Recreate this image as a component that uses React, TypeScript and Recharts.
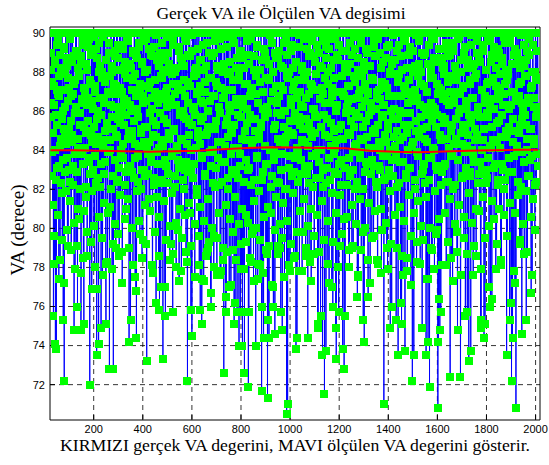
import React from "react";
import {
  ComposedChart,
  Line,
  XAxis,
  YAxis,
  CartesianGrid,
} from "recharts";

// Measured VA (degrees) on even samples 24, 26, 28, ... in blocks of 200 samples.
const vaEven0 = [
  90, 86.4, 88.1, 82.7, 90, 84.9, 75.5, 87.3, 78.2, 88.6,
  74.1, 85.8, 73.8, 89.4, 83.1, 86.9, 90, 77.4, 87.8, 84.2,
  88.9, 82.3, 90, 85.6, 79.4, 87.1, 75.3, 89.2, 72.2, 84.7,
  86.2, 90, 81.9, 88.3, 83.6, 87.7, 79.1, 90, 85.1, 82.4,
  89.7, 86.8, 78.9, 84.4, 88.5, 90, 83.2, 87.4, 74.8, 85.9,
  77.9, 89.1, 86.1, 90, 82.9, 76.0, 88.2, 84.6, 87.9, 80.5,
  90, 85.3, 74.8, 88.8, 83.8, 86.6, 89.6, 78.5, 75.1, 87.2,
  84.1, 90, 82.1, 88.4, 86.3, 79.8, 89.3, 85.5, 83.4, 90,
  72.0, 87.6, 84.8, 88.9, 76.9, 86.5, 90, 83.0, 89.8, 85.2,
  78.0, 87.0, 90, 84.3, 73.5, 88.7, 82.6, 86.0, 74.1, 89.5,
];
const vaEven1 = [
  86.7, 90, 83.3, 74.9, 88.0, 84.5, 77.6, 89.9, 86.4, 90,
  82.8, 87.5, 85.0, 75.1, 88.6, 90, 78.3, 86.9, 83.9, 89.0,
  72.8, 84.0, 87.8, 90, 82.0, 88.3, 85.7, 79.2, 72.8, 86.2,
  90, 83.5, 88.8, 79.0, 87.3, 84.7, 90, 89.4, 82.5, 86.0,
  78.6, 88.1, 85.4, 90, 83.7, 87.0, 77.2, 89.2, 84.3, 86.6,
  90, 82.2, 88.5, 85.8, 81.0, 87.7, 90, 83.1, 89.6, 84.9,
  74.2, 86.3, 90, 75.3, 88.2, 82.9, 87.1, 84.6, 78.1, 89.1,
  85.5, 90, 83.6, 87.9, 76.8, 74.4, 88.7, 86.1, 90, 82.4,
  84.2, 89.5, 79.7, 87.4, 85.1, 90, 83.0, 88.4, 79.4, 86.8,
  90, 84.4, 88.0, 82.7, 86.5, 89.7, 73.2, 85.2, 90, 83.8,
];
const vaEven2 = [
  87.2, 81.5, 90, 85.9, 88.9, 83.4, 86.7, 90, 77.7, 84.8,
  89.3, 82.6, 87.6, 90, 85.3, 76.2, 88.6, 83.9, 86.4, 90,
  78.6, 84.1, 75.8, 89.0, 86.9, 82.3, 90, 87.7, 84.5, 73.3,
  88.1, 85.6, 90, 77.0, 75.5, 87.0, 83.2, 89.8, 86.2, 90,
  82.8, 88.4, 84.9, 78.4, 90, 86.6, 79.2, 87.9, 83.7, 75.7,
  89.4, 85.0, 90, 82.1, 88.0, 86.3, 78.0, 84.2, 90, 87.4,
  83.5, 89.1, 77.3, 86.0, 90, 88.7, 84.6, 79.5, 87.1, 82.5,
  90, 85.7, 88.3, 83.0, 86.8, 90, 78.8, 89.6, 84.3, 72.2,
  87.5, 82.9, 90, 85.4, 88.8, 80.8, 75.8, 84.0, 74.5, 89.9,
  86.1, 90, 83.3, 87.8, 77.5, 85.8, 90, 88.2, 82.0, 86.9,
];
const vaEven3 = [
  89.2, 84.7, 90, 78.1, 87.3, 75.8, 85.5, 88.6, 75.1, 83.6,
  90, 86.4, 77.3, 88.1, 82.7, 87.0, 90, 84.8, 78.8, 89.5,
  85.2, 79.0, 87.7, 90, 83.9, 86.5, 76.7, 76.0, 88.9, 84.0,
  90, 82.3, 86.8, 79.6, 89.0, 85.1, 90, 83.1, 87.5, 77.6,
  88.3, 84.4, 90, 86.2, 82.2, 89.7, 85.9, 77.8, 87.2, 90,
  83.4, 88.0, 78.4, 72.6, 86.7, 90, 84.2, 75.7, 76.5, 89.3,
  85.6, 82.6, 87.9, 90, 77.0, 86.0, 88.5, 83.8, 90, 84.9,
  87.1, 78.9, 89.8, 85.3, 75.1, 90, 76.2, 82.8, 88.2, 86.3,
  75.7, 84.1, 90, 87.6, 74.0, 83.2, 89.1, 75.7, 85.7, 77.9,
  90, 74.0, 86.6, 88.7, 82.4, 72.6, 87.4, 90, 84.5, 79.3,
];
const vaEven4 = [
  86.1, 89.6, 83.0, 71.9, 75.7, 88.4, 85.8, 90, 78.3, 87.2,
  84.3, 90, 79.9, 86.9, 88.8, 82.5, 90, 85.0, 74.0, 87.8,
  83.7, 89.4, 77.4, 86.4, 90, 84.6, 88.1, 78.1, 85.4, 90,
  71.7, 76.0, 87.0, 82.9, 74.4, 89.2, 85.7, 90, 83.3, 88.6,
  78.7, 86.2, 71.3, 75.3, 90, 74.4, 87.6, 84.0, 89.9, 82.1,
  86.5, 90, 77.1, 88.0, 76.0, 85.1, 83.5, 74.6, 89.0, 87.3,
  90, 82.4, 85.9, 88.7, 79.1, 86.8, 90, 84.4, 79.0, 75.7,
  88.3, 83.8, 74.8, 87.1, 90, 85.2, 89.5, 82.0, 86.0, 90,
  84.7, 70.5, 88.9, 71.0, 87.7, 83.1, 90, 85.5, 77.8, 89.1,
  86.3, 82.7, 90, 88.2, 84.8, 78.5, 87.5, 90, 83.6, 85.9,
];
const vaEven5 = [
  73.8, 88.5, 74.4, 86.7, 90, 83.9, 89.3, 77.8, 87.0, 85.3,
  90, 82.8, 88.1, 84.5, 79.8, 86.2, 90, 89.7, 83.2, 87.6,
  78.6, 85.6, 90, 88.0, 74.4, 84.2, 86.9, 82.3, 90, 89.0,
  85.0, 77.3, 87.3, 83.7, 90, 86.1, 88.8, 78.7, 84.9, 90,
  82.6, 87.9, 85.7, 89.4, 75.1, 74.9, 90, 83.4, 86.6, 88.3,
  75.5, 84.0, 90, 87.2, 73.5, 82.1, 89.6, 85.8, 71.5, 90,
  86.4, 73.7, 88.7, 83.1, 90, 78.2, 87.4, 84.7, 89.2, 82.5,
  90, 85.4, 88.2, 77.0, 86.8, 76.0, 90, 83.8, 87.7, 84.1,
  89.8, 74.9, 73.3, 86.3, 90, 82.8, 88.6, 75.7, 85.1, 79.1,
  90, 87.0, 83.5, 89.1, 84.6, 73.8, 86.9, 90, 72.8, 88.4,
];
const vaEven6 = [
  75.5, 85.9, 90, 82.2, 88.0, 86.5, 90, 83.6, 87.3, 78.0,
  89.5, 84.8, 90, 86.0, 79.0, 88.9, 83.0, 90, 85.2, 87.8,
  82.0, 89.2, 84.3, 90, 86.7, 76.5, 88.1, 77.5, 85.7, 90,
  83.9, 87.1, 89.8, 78.9, 86.2, 90, 84.5, 75.3, 88.5, 74.2,
  87.4, 82.9, 90, 85.5, 89.0, 83.3, 86.9, 76.5, 90, 84.1,
  88.3, 77.2, 86.4, 90, 83.5, 87.7, 85.0, 90, 79.6, 89.3,
  84.9, 88.8, 82.4, 86.1, 90, 87.0, 78.4, 85.3, 89.7, 83.2,
  90, 86.6, 84.0, 88.2, 77.7, 87.5, 90, 85.8, 83.7, 71.0,
  86.3, 90, 82.6, 88.7, 84.4, 79.0, 87.2, 90, 85.1, 89.4,
  83.0, 87.9, 74.9, 90, 86.0, 76.0, 88.4, 82.7, 90, 84.7,
];
const vaEven7 = [
  88.6, 84.2, 90, 86.8, 75.3, 82.1, 89.1, 85.6, 73.5, 87.9,
  90, 83.4, 86.0, 76.2, 88.8, 75.1, 90, 84.7, 77.6, 87.3,
  89.6, 85.3, 73.7, 90, 82.8, 86.9, 88.2, 78.5, 84.0, 90,
  87.6, 83.1, 89.3, 85.9, 77.1, 90, 86.5, 72.2, 88.0, 84.4,
  73.5, 90, 87.1, 82.5, 89.9, 85.0, 79.3, 86.7, 90, 83.7,
  88.4, 84.8, 90, 78.2, 87.4, 85.7, 89.0, 74.9, 83.0, 90,
  86.2, 88.9, 82.3, 84.6, 90, 73.5, 87.0, 85.2, 77.4, 74.2,
  89.4, 83.6, 71.9, 90, 86.4, 88.1, 79.0, 85.5, 90, 87.7,
  84.1, 89.7, 77.9, 86.1, 90, 83.2, 88.5, 85.8, 79.9, 70.8,
  74.2, 76.4, 87.2, 74.8, 90, 75.7, 84.5, 88.7, 82.9, 86.6,
];
const vaEven8 = [
  90, 85.4, 88.3, 83.3, 86.9, 90, 78.1, 89.2, 84.6, 87.5,
  82.4, 90, 86.3, 88.9, 72.4, 85.0, 90, 83.8, 87.8, 77.3,
  89.5, 84.3, 86.8, 90, 82.2, 88.0, 85.6, 90, 78.8, 74.8,
  87.0, 83.5, 89.8, 90, 86.1, 72.4, 84.9, 88.6, 82.6, 90,
  85.3, 87.3, 79.5, 89.0, 83.9, 75.5, 90, 86.5, 84.2, 75.7,
  88.2, 90, 73.2, 85.8, 87.6, 82.7, 73.7, 89.4, 84.0, 90,
  86.7, 77.6, 88.4, 83.4, 90, 85.1, 87.9, 78.6, 89.6, 84.8,
  90, 86.0, 82.8, 88.8, 85.7, 90, 74.9, 75.3, 87.1, 83.0,
  89.1, 84.5, 90, 74.4, 86.4, 75.1, 88.1, 82.3, 90, 85.9,
  87.4, 83.6, 89.7, 77.0, 90, 86.2, 76.0, 84.1, 88.5, 76.4,
];
const vaEven9 = [
  85.2, 90, 87.7, 83.1, 89.3, 86.6, 90, 77.9, 88.2, 84.4,
  90, 86.9, 82.5, 89.0, 85.5, 90, 87.2, 78.4, 84.7, 88.7,
  83.3, 90, 86.3, 89.8, 82.0, 87.4, 90, 85.0, 88.0, 73.5,
  84.9, 90, 87.9, 82.9, 86.1, 75.3, 89.5, 90, 76.2, 72.2,
  88.4, 74.4, 85.6, 90, 83.7, 87.0, 77.2, 89.2, 70.8, 86.5,
  90, 84.2, 88.6, 82.4, 86.8, 90, 85.3, 79.2, 89.9, 87.5,
  74.6, 83.9, 90, 86.0, 88.3, 78.7, 85.8, 90, 87.8, 75.3,
  84.6, 89.1, 90, 82.7, 86.4, 88.9, 83.5, 90, 85.1, 76.7,
  87.3, 77.6, 89.4, 90, 84.3, 86.7, 88.0, 82.2, 90, 85.7,
  87.6, 83.8, 90, 86.2,
];

// Measured VA (degrees) on odd samples 25, 27, 29, ... in blocks of 200 samples.
const vaOdd0 = [
  85.7, 89.0, 83.9, 87.5, 81.2, 90, 86.3, 79.6, 88.4, 84.0,
  90, 82.5, 87.1, 85.3, 89.6, 80.7, 86.8, 83.2, 90, 78.4,
  84.6, 88.2, 81.8, 90, 86.0, 83.5, 89.3, 77.2, 85.1, 87.9,
  82.9, 90, 84.3, 88.7, 79.9, 86.5, 90, 83.0, 87.2, 81.4,
  89.9, 85.5, 78.9, 90, 84.8, 86.9, 82.2, 88.8, 80.3, 87.6,
  83.8, 90, 86.2, 79.1, 89.1, 84.1, 81.0, 87.8, 90, 85.9,
  82.0, 88.5, 77.7, 86.4, 90, 83.3, 89.4, 80.9, 85.2, 87.0,
  90, 81.6, 84.9, 88.1, 78.6, 86.7, 90, 83.6, 89.7, 82.8,
  85.0, 79.3, 87.4, 90, 84.4, 81.9, 88.9, 86.1, 80.1, 90,
  83.7, 87.3, 82.3, 89.2, 76.9, 85.6, 90, 84.7, 88.0, 80.6,
];
const vaOdd1 = [
  88.3, 82.1, 90, 85.8, 79.5, 87.7, 84.2, 89.8, 81.3, 86.6,
  90, 83.4, 78.2, 88.6, 85.4, 90, 80.8, 87.0, 83.9, 89.5,
  84.5, 81.1, 86.3, 90, 88.0, 77.9, 85.1, 82.7, 90, 87.4,
  80.2, 89.1, 84.8, 86.9, 90, 82.4, 88.7, 79.7, 85.6, 83.1,
  90, 87.2, 81.7, 89.4, 84.0, 86.2, 78.8, 90, 83.6, 88.2,
  85.3, 80.5, 87.9, 90, 82.9, 86.5, 89.7, 81.5, 84.6, 90,
  79.0, 88.4, 83.2, 86.0, 90, 85.0, 80.0, 87.6, 89.0, 82.6,
  90, 84.3, 77.5, 88.9, 86.8, 81.9, 90, 83.7, 85.7, 89.3,
  80.4, 87.1, 90, 84.9, 82.0, 88.5, 78.5, 86.4, 90, 83.0,
  89.6, 85.2, 81.2, 90, 87.3, 79.2, 84.1, 88.1, 82.8, 90,
];
const vaOdd2 = [
  84.4, 89.2, 80.9, 87.5, 90, 83.8, 86.1, 78.1, 88.8, 85.5,
  90, 82.2, 87.0, 79.8, 89.9, 84.7, 81.6, 90, 86.7, 83.3,
  88.3, 80.6, 90, 85.9, 77.0, 87.8, 82.5, 89.5, 84.2, 90,
  81.4, 86.6, 88.6, 83.5, 90, 79.4, 85.4, 87.2, 82.3, 89.0,
  90, 84.6, 80.1, 88.0, 86.3, 90, 81.8, 83.9, 78.7, 87.4,
  89.7, 85.1, 90, 82.7, 86.9, 80.3, 88.2, 84.0, 90, 79.9,
  87.1, 83.1, 89.3, 81.0, 85.8, 90, 77.8, 88.5, 84.5, 86.0,
  90, 82.0, 87.6, 80.7, 89.8, 85.6, 83.4, 90, 78.3, 86.4,
  88.9, 84.8, 81.3, 90, 87.3, 83.0, 79.1, 89.1, 85.3, 90,
  82.6, 86.2, 90, 80.2, 88.1, 84.1, 87.9, 81.7, 90, 85.0,
];
const vaOdd3 = [
  87.0, 79.6, 90, 84.3, 88.6, 81.1, 86.5, 90, 77.4, 83.7,
  89.4, 85.7, 80.4, 90, 87.5, 82.8, 78.6, 88.3, 84.9, 90,
  81.5, 86.0, 89.0, 79.3, 85.2, 90, 83.2, 87.7, 80.0, 88.8,
  90, 84.0, 78.0, 86.8, 82.1, 89.6, 85.5, 90, 79.5, 87.3,
  83.6, 88.1, 90, 80.8, 85.9, 77.6, 89.2, 84.4, 90, 82.4,
  86.7, 79.0, 88.4, 90, 83.4, 87.1, 81.2, 85.3, 90, 78.8,
  89.8, 84.7, 82.0, 90, 86.3, 80.5, 88.0, 77.1, 85.1, 90,
  83.0, 87.6, 79.8, 89.5, 84.1, 90, 81.6, 86.6, 78.4, 88.7,
  90, 82.6, 85.8, 80.2, 87.9, 90, 83.8, 79.2, 89.1, 84.6,
  81.0, 90, 86.2, 77.9, 88.2, 85.0, 90, 80.7, 83.5, 87.4,
];
const vaOdd4 = [
  85.4, 80.3, 88.9, 83.1, 90, 78.5, 86.8, 82.2, 89.7, 79.7,
  87.2, 90, 84.5, 77.3, 88.1, 81.4, 85.6, 90, 80.0, 86.9,
  83.6, 89.3, 78.2, 90, 84.8, 81.9, 87.5, 79.4, 90, 85.2,
  82.5, 88.6, 77.7, 86.1, 90, 80.6, 84.2, 89.0, 78.9, 87.7,
  90, 83.3, 81.1, 85.9, 88.4, 79.1, 90, 84.0, 86.5, 80.8,
  89.5, 82.7, 77.0, 87.0, 90, 83.9, 85.3, 79.9, 88.7, 81.6,
  90, 86.4, 78.7, 84.6, 89.1, 82.3, 90, 80.2, 87.3, 83.0,
  85.8, 90, 79.5, 88.2, 81.3, 86.0, 77.5, 90, 84.3, 89.8,
  82.0, 87.8, 80.4, 90, 85.0, 78.1, 88.0, 83.7, 90, 86.6,
  79.2, 84.9, 89.4, 81.8, 87.1, 90, 82.9, 85.5, 78.6, 88.5,
];
const vaOdd5 = [
  90, 84.1, 79.8, 87.6, 82.4, 89.9, 85.7, 90, 80.9, 86.3,
  83.5, 88.3, 77.8, 90, 85.1, 81.5, 87.9, 84.4, 90, 79.0,
  86.7, 82.8, 89.2, 90, 80.1, 85.4, 88.8, 83.2, 78.3, 90,
  87.4, 81.0, 84.7, 89.6, 90, 82.1, 86.1, 79.6, 88.5, 85.8,
  90, 83.8, 80.7, 87.1, 84.0, 90, 78.8, 89.0, 86.6, 82.6,
  85.2, 90, 81.4, 88.2, 83.0, 86.9, 90, 79.4, 84.8, 87.7,
  89.3, 82.3, 90, 85.6, 80.4, 88.0, 83.6, 77.2, 90, 86.4,
  84.2, 89.7, 81.8, 87.2, 90, 79.3, 85.0, 88.6, 82.9, 90,
  86.0, 80.8, 84.5, 90, 88.9, 78.0, 87.0, 83.3, 89.4, 81.7,
  90, 85.3, 82.2, 87.8, 79.7, 90, 84.6, 86.8, 80.5, 88.1,
];
const vaOdd6 = [
  83.1, 89.1, 90, 86.2, 80.6, 87.3, 84.9, 78.9, 90, 82.7,
  88.4, 85.5, 90, 81.2, 86.6, 83.9, 79.1, 89.8, 90, 84.2,
  87.5, 80.2, 85.9, 90, 82.4, 88.7, 77.6, 86.9, 90, 83.6,
  81.5, 89.5, 84.6, 90, 87.8, 79.8, 85.2, 82.0, 88.1, 90,
  86.5, 80.0, 83.4, 89.2, 90, 84.7, 78.4, 87.0, 85.8, 81.3,
  90, 88.3, 82.8, 86.0, 79.5, 90, 84.1, 87.6, 83.2, 89.6,
  80.9, 85.1, 90, 88.8, 82.1, 86.7, 78.2, 90, 84.4, 87.1,
  83.0, 89.0, 81.0, 90, 85.7, 79.9, 88.5, 86.3, 90, 82.5,
  84.8, 87.4, 80.3, 90, 89.3, 83.7, 77.9, 85.4, 90, 86.8,
  81.9, 88.0, 84.0, 90, 79.2, 87.9, 83.5, 89.9, 85.6, 90,
];
const vaOdd7 = [
  86.1, 80.7, 88.6, 90, 83.8, 85.0, 79.0, 87.5, 90, 82.3,
  89.4, 84.5, 81.1, 90, 86.8, 78.6, 88.1, 83.4, 90, 85.9,
  80.4, 87.2, 89.7, 82.6, 90, 84.9, 77.8, 86.4, 90, 81.7,
  88.9, 85.3, 83.1, 90, 79.6, 87.0, 84.2, 89.1, 90, 80.8,
  86.6, 82.0, 88.3, 90, 85.5, 78.3, 83.9, 87.8, 90, 81.4,
  89.6, 84.7, 86.3, 90, 80.1, 88.0, 82.8, 85.1, 90, 79.4,
  87.3, 83.3, 90, 89.0, 81.6, 86.0, 77.4, 84.4, 90, 88.4,
  82.5, 85.8, 90, 80.0, 87.7, 83.6, 89.8, 78.9, 90, 86.2,
  84.0, 88.7, 81.9, 90, 85.2, 79.7, 87.4, 83.0, 90, 86.9,
  80.5, 89.2, 84.8, 90, 82.2, 87.1, 78.1, 85.7, 90, 88.2,
];
const vaOdd8 = [
  83.2, 87.9, 90, 80.8, 85.6, 89.5, 82.4, 90, 86.5, 79.3,
  88.8, 84.1, 90, 81.5, 87.0, 83.7, 78.5, 90, 85.3, 89.1,
  82.0, 86.4, 90, 80.2, 88.3, 84.6, 87.6, 90, 79.8, 83.5,
  89.7, 85.9, 81.2, 90, 86.9, 77.6, 88.0, 84.3, 90, 82.7,
  87.2, 80.6, 90, 85.0, 89.3, 83.1, 86.1, 90, 78.7, 88.6,
  84.8, 81.8, 90, 87.4, 82.9, 85.4, 89.9, 90, 80.3, 86.7,
  83.8, 88.2, 79.1, 90, 84.5, 87.7, 81.0, 90, 85.8, 89.0,
  82.3, 86.2, 90, 80.9, 88.5, 83.4, 77.9, 90, 87.1, 84.0,
  89.4, 81.6, 85.1, 90, 86.8, 79.5, 88.1, 83.0, 90, 82.6,
  87.5, 85.7, 90, 80.1, 89.6, 84.2, 86.6, 90, 81.4, 88.9,
];
const vaOdd9 = [
  84.5, 90, 86.1, 80.5, 88.7, 83.3, 87.3, 90, 79.2, 85.4,
  89.2, 82.2, 90, 86.6, 81.0, 87.9, 84.1, 90, 78.1, 88.4,
  85.8, 83.0, 90, 80.7, 86.9, 89.5, 82.5, 90, 84.7, 87.6,
  79.6, 88.1, 90, 83.6, 85.2, 81.3, 89.8, 90, 86.3, 82.9,
  87.0, 84.4, 90, 77.8, 88.9, 85.0, 80.8, 90, 86.8, 83.9,
  89.0, 81.7, 90, 87.4, 84.9, 79.4, 88.2, 90, 82.1, 85.6,
  86.4, 90, 80.2, 89.4, 83.4, 87.8, 90, 81.9, 85.3, 88.6,
  84.0, 78.8, 90, 86.7, 82.7, 89.7, 90, 85.1, 80.6, 87.2,
  83.7, 88.0, 90, 81.5, 86.2, 84.6, 79.9, 90, 87.7, 82.4,
  89.1, 85.9, 90, 83.2,
];

const FIRST_SAMPLE = 24;

// True VA (degrees) at a handful of samples.
const trueSamples = [24, 125, 225, 325, 425, 525, 625, 725, 825, 925, 1025, 1125, 1225, 1325, 1425, 1525, 1625, 1725, 1825, 1925, 2010];
const trueVA = [84.0, 84.0, 83.98, 83.95, 83.92, 83.95, 83.97, 84.05, 84.12, 84.15, 84.14, 84.12, 84.1, 83.98, 83.92, 83.9, 83.93, 83.97, 84.0, 84.02, 84.02];

const xTicks = [200, 400, 600, 800, 1000, 1200, 1400, 1600, 1800, 2000];
const yTicks = [72, 74, 76, 78, 80, 82, 84, 86, 88, 90];
const X_DOMAIN: [number, number] = [22, 2018];
const Y_DOMAIN: [number, number] = [70.19, 90.31];

const evenValues = [
  vaEven0, vaEven1, vaEven2, vaEven3, vaEven4,
  vaEven5, vaEven6, vaEven7, vaEven8, vaEven9,
].flat();
const oddValues = [
  vaOdd0, vaOdd1, vaOdd2, vaOdd3, vaOdd4,
  vaOdd5, vaOdd6, vaOdd7, vaOdd8, vaOdd9,
].flat();

// Interleave even and odd samples into one time-ordered series.
const measured: { sample: number; va: number }[] = [];
evenValues.forEach((va, i) => {
  measured.push({ sample: FIRST_SAMPLE + 2 * i, va });
  if (i < oddValues.length) {
    measured.push({ sample: FIRST_SAMPLE + 2 * i + 1, va: oddValues[i] });
  }
});

const truth = trueSamples.map((sample, i) => ({ sample, tva: trueVA[i] }));

const GreenSquare = (props: any) => {
  const { cx, cy, index } = props;
  if (cx == null || cy == null) return <g key={`sq-${index}`} />;
  return (
    <rect
      key={`sq-${index}`}
      x={Math.round(cx - 4)}
      y={Math.round(cy - 4)}
      width={8}
      height={8}
      fill="#00ff00"
      shapeRendering="crispEdges"
    />
  );
};

const tickFont = { fontFamily: "Liberation Sans, Arial, sans-serif", fontSize: 11, fill: "#000" };
const serif = "Liberation Serif, Times New Roman, serif";
const CHART_MARGIN = { top: 26, right: 8, bottom: 0, left: 0 };

// Shared axis set so the overlay chart lines up exactly with the base chart.
function Axes({ showTicks }: { showTicks: boolean }) {
  return [
    <XAxis
      key="xb"
      dataKey="sample"
      type="number"
      domain={X_DOMAIN}
      allowDataOverflow
      ticks={xTicks}
      height={45}
      stroke="#000"
      tickSize={-5}
      tickMargin={10}
      tick={showTicks ? tickFont : false}
      tickLine={showTicks}
      axisLine={showTicks}
      interval={0}
    />,
    <XAxis
      key="xt"
      xAxisId="top"
      orientation="top"
      type="number"
      domain={X_DOMAIN}
      allowDataOverflow
      ticks={xTicks}
      height={1}
      stroke="#000"
      tickSize={-5}
      tick={false}
      tickLine={showTicks}
      axisLine={showTicks}
      interval={0}
    />,
    <YAxis
      key="yl"
      type="number"
      domain={Y_DOMAIN}
      allowDataOverflow
      ticks={yTicks}
      width={50}
      stroke="#000"
      tickSize={-5}
      tickMargin={10}
      tick={showTicks ? tickFont : false}
      tickLine={showTicks}
      axisLine={showTicks}
      interval={0}
    />,
    <YAxis
      key="yr"
      yAxisId="right"
      orientation="right"
      type="number"
      domain={Y_DOMAIN}
      allowDataOverflow
      ticks={yTicks}
      width={1}
      stroke="#000"
      tickSize={-5}
      tick={false}
      tickLine={showTicks}
      axisLine={showTicks}
      interval={0}
    />,
  ];
}

export default function App() {
  return (
    <div style={{ position: "absolute", left: 0, top: 0, width: 549, height: 465, background: "#fff" }}>
      <ComposedChart width={549} height={465} margin={CHART_MARGIN}>
        <CartesianGrid
          stroke="#000"
          strokeWidth={0.8}
          strokeDasharray="5 4"
          horizontalValues={yTicks}
          verticalValues={xTicks}
        />
        {Axes({ showTicks: true })}
        <Line
          data={measured}
          dataKey="va"
          type="linear"
          stroke="#0000ff"
          strokeWidth={1}
          dot={GreenSquare}
          activeDot={false}
          isAnimationActive={false}
        />
      </ComposedChart>
      <div style={{ position: "absolute", left: 0, top: 0 }}>
        <ComposedChart width={549} height={465} margin={CHART_MARGIN}>
          {Axes({ showTicks: false })}
          <Line
            data={truth}
            dataKey="tva"
            type="linear"
            stroke="#ff0000"
            strokeWidth={2}
            dot={false}
            activeDot={false}
            isAnimationActive={false}
          />
        </ComposedChart>
      </div>
      <svg
        width={549}
        height={465}
        style={{ position: "absolute", left: 0, top: 0, pointerEvents: "none" }}
      >
        <text x={281} y={19} textAnchor="middle" fontFamily={serif} fontSize={17.5} fill="#000">
          Gerçek VA ile Ölçülen VA degisimi
        </text>
        <text x={295} y={451} textAnchor="middle" fontFamily={serif} fontSize={17.7} fill="#000">
          KIRMIZI gerçek VA degerini, MAVI ölçülen VA degerini gösterir.
        </text>
        <text
          transform="translate(24,230) rotate(-90)"
          textAnchor="middle"
          fontFamily={serif}
          fontSize={19}
          fill="#000"
        >
          VA (derece)
        </text>
      </svg>
    </div>
  );
}
